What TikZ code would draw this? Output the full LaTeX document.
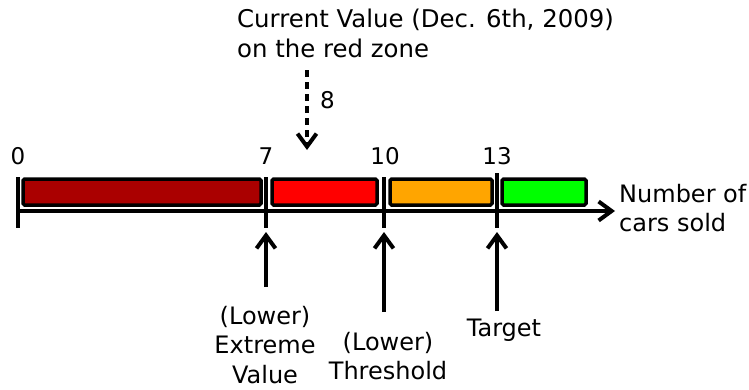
\documentclass[tikz,border=0pt]{standalone}
\usepackage{fontspec}
\setmainfont{DejaVu Sans}
\usetikzlibrary{arrows.meta}

\definecolor{darkzone}{HTML}{AA0000}
\definecolor{redzone}{HTML}{FF0000}
\definecolor{orangezone}{HTML}{FFA500}
\definecolor{greenzone}{HTML}{00FF00}

\tikzset{
  zone/.style={draw=black, line width=3.5pt, rounded corners=1.5pt},
  tickline/.style={line width=4pt},
  pointer/.style={line width=4pt, -{Straight Barb[length=13pt,width=19pt,line width=4pt]}},
  lbl/.style={inner sep=0pt, font=\fontsize{24}{29.5}\selectfont},
  num/.style={inner sep=0pt, font=\fontsize{23}{27}\selectfont},
}

\begin{document}
\begin{tikzpicture}[x=1pt,y=-1pt]
  \useasboundingbox (0,0) rectangle (749,389);

  % coloured zones
  \draw[zone, fill=darkzone]   (23,179) rectangle (261,205);
  \draw[zone, fill=redzone]    (272,179) rectangle (377,205);
  \draw[zone, fill=orangezone] (390,179) rectangle (492,205);
  \draw[zone, fill=greenzone]  (502,179) rectangle (586,205);

  % axis and ticks
  \coordinate (t0top)  at (18,177);  \coordinate (t0bot)  at (18,228);
  \coordinate (t7top)  at (266,177); \coordinate (t7bot)  at (266,228);
  \coordinate (t10top) at (384,177); \coordinate (t10bot) at (384,228);
  \coordinate (t13top) at (497,173); \coordinate (t13bot) at (497,228);
  \coordinate (axstart) at (16,211);  \coordinate (axend) at (615,211);
  \draw[pointer] (axstart) -- (axend);              %Number axis
  \draw[tickline] (t0top) -- (t0bot);
  \draw[tickline] (t7top) -- (t7bot);
  \draw[tickline] (t10top) -- (t10bot);
  \draw[tickline] (t13top) -- (t13bot);

  \node[num, anchor=base] (n0)  at (18,164)  {0};
  \node[num, anchor=base] (n7)  at (266,164) {7};
  \node[num, anchor=base] (n10) at (385,164) {10};
  \node[num, anchor=base] (n13) at (497,164) {13};
  \node[lbl, anchor=north west, align=left] (unit) at (619,184) {Number of\\cars sold};

  % current value
  \node[lbl, anchor=north west, align=left, font=\fontsize{24.4}{30}\selectfont] (current) at (237,9)
    {Current Value (Dec. 6th, 2009)\\on the red zone};
  \coordinate (curtail) at (307,70);
  \coordinate (curhead) at (307,150);
  \draw[pointer, dash pattern=on 7pt off 5pt] (curtail) -- (curhead);
  \node[num, anchor=base west] (eight) at (320,108) {8};

  % limits below the axis
  \coordinate (evtail) at (266,287); \coordinate (evhead) at (266,232);
  \coordinate (thtail) at (384,312); \coordinate (thhead) at (384,232);
  \coordinate (tgtail) at (497,311); \coordinate (tghead) at (497,232);
  \draw[pointer] (evtail) -- (evhead);
  \draw[pointer] (thtail) -- (thhead);
  \draw[pointer] (tgtail) -- (tghead);

  \node[lbl, anchor=north, align=center] (extreme) at (265,306) {(Lower)\\Extreme\\Value};
  \node[lbl, anchor=north, align=center] (threshold) at (388,332) {(Lower)\\Threshold};
  \node[lbl, anchor=north] (target) at (504,319) {Target};
\end{tikzpicture}
\end{document}
